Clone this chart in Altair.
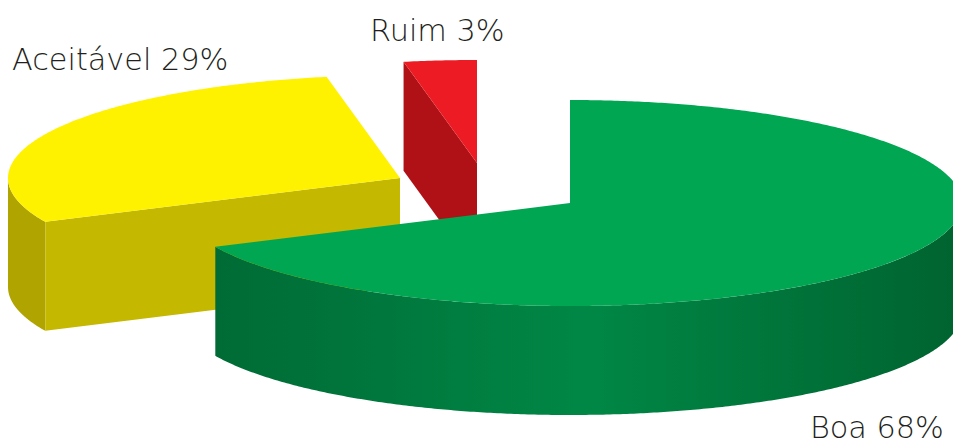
import math
import altair as alt
import pandas as pd

categories = ["Boa", "Aceitável", "Ruim"]
shares = [68, 29, 3]
tick_labels = ["Boa 68%", "Aceitável 29%", "Ruim 3%"]

# pie geometry in picture pixels (each exploded slice keeps its own apex)
RX, RY, DEPTH = 392, 103, 109
APEX = {"Boa": (570, 203), "Aceitável": (400, 178), "Ruim": (477, 163)}
LABEL_AT = {"Boa": (810, 438), "Aceitável": (12, 70), "Ruim": (370, 41)}
MARGIN = 8

bounds = {}
acc = 0
for cat, s in zip(categories, shares):
    bounds[cat] = (acc * 3.6, (acc + s) * 3.6)
    acc += s


def rim(cat, deg, drop=0):
    ax, ay = APEX[cat]
    t = math.radians(deg)
    return [ax + RX * math.sin(t), ay - RY * math.cos(t) + drop]


def arc(cat, a, b, drop=0):
    n = max(2, int(abs(b - a) * 2))
    return [rim(cat, a + (b - a) * i / n, drop) for i in range(n + 1)]


def shape(points):
    ring = points + [points[0]]
    return alt.Data(values=[{"type": "Feature", "properties": {},
                             "geometry": {"type": "Polygon", "coordinates": [ring]}}])


def layer(points, fill):
    return alt.Chart(shape(points)).mark_geoshape(fill=fill, strokeWidth=0).project(
        type="identity", scale=1, translate=[-MARGIN, -MARGIN])


def apex(cat, drop=0):
    return [APEX[cat][0], APEX[cat][1] + drop]


g0, g1 = bounds["Boa"]
y0, y1 = bounds["Aceitável"]
r0, r1 = bounds["Ruim"]

green_side = alt.Gradient(
    gradient="linear", x1=0, x2=1, y1=0, y2=0,
    stops=[alt.GradientStop(offset=0, color="#006B35"),
           alt.GradientStop(offset=0.5, color="#008746"),
           alt.GradientStop(offset=1, color="#00632F")])

layers = [
    # Ruim
    layer([rim("Ruim", r0), apex("Ruim"), apex("Ruim", DEPTH), rim("Ruim", r0, DEPTH)], "#B01116"),
    layer([apex("Ruim")] + arc("Ruim", r0, r1), "#ED1C24"),
    # Aceitável
    layer(arc("Aceitável", y0, 270) + arc("Aceitável", 270, y0, DEPTH), "#B0A400"),
    layer([rim("Aceitável", y0), apex("Aceitável"), apex("Aceitável", DEPTH),
           rim("Aceitável", y0, DEPTH)], "#C4B800"),
    layer([apex("Aceitável")] + arc("Aceitável", y0, y1), "#FFF200"),
    # Boa
    layer(arc("Boa", 90, g1) + arc("Boa", g1, 90, DEPTH), green_side),
    layer([apex("Boa")] + arc("Boa", g0, g1), "#00A651"),
]

labels = pd.DataFrame({
    "label": tick_labels,
    "x": [LABEL_AT[c][0] - MARGIN for c in categories],
    "y": [LABEL_AT[c][1] - MARGIN for c in categories],
})
text = alt.Chart(labels).mark_text(
    align="left", baseline="alphabetic", font="DejaVu Sans", fontSize=30.3,
    fontWeight=200, color="#231F20",
).encode(
    x=alt.X("x:Q", scale=None, axis=None),
    y=alt.Y("y:Q", scale=None, axis=None),
    text="label:N",
)

chart = alt.layer(*layers, text).properties(
    width=945, height=436, padding=0,
    autosize=alt.AutoSizeParams(type="none"),
    background="white",
).configure_view(stroke=None)

chart.save("out.html", embed_options={"renderer": "svg", "actions": False})
